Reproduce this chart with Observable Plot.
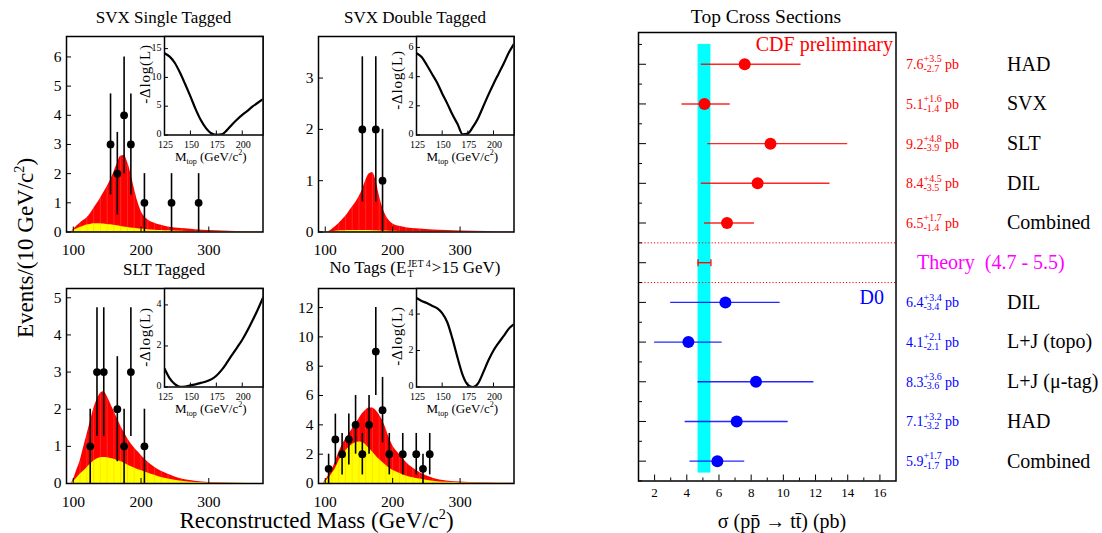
<!DOCTYPE html>
<html><head><meta charset="utf-8">
<script src="https://cdn.jsdelivr.net/npm/d3@7"></script>
<script src="https://cdn.jsdelivr.net/npm/@observablehq/plot@0.6"></script>
<style>
body{margin:0;background:#fff;}
#c{position:relative;width:1102px;height:533px;overflow:hidden;font-family:"Liberation Serif","Times New Roman",serif;color:#000;background:#fff;}
.lbl{position:absolute;white-space:nowrap;line-height:1;transform:translate(-50%,-50%);}
.ss{display:inline-flex;flex-direction:column;font-size:10px;line-height:1;vertical-align:6px;margin:0 1px;}
sub,sup{font-size:0.62em;line-height:0;}
</style></head><body><div id="c"></div>
<script>
// ---------- data: mass histograms ----------
const massGrid = [97,100,105,110,115,120,125,130,135,140,145,150,155,160,165,170,175,180,185,190,195,200,210,220,230,240,260,280,300,340,380];
const svxSingleTotal = [0,0.08,0.2,0.3,0.39,0.48,0.62,0.8,0.97,1.15,1.35,1.55,1.78,2.05,2.35,2.6,2.62,2.4,2.0,1.5,1.05,0.72,0.42,0.3,0.23,0.17,0.12,0.08,0.05,0.02,0.01];
const svxSingleBkg   = [0,0.04,0.1,0.15,0.2,0.24,0.26,0.28,0.285,0.28,0.27,0.26,0.245,0.23,0.21,0.19,0.17,0.155,0.14,0.125,0.11,0.1,0.08,0.06,0.05,0.04,0.03,0.02,0.012,0.005,0.002];
const svxDoubleTotal = [0,0,0.01,0.05,0.1,0.16,0.23,0.3,0.39,0.48,0.57,0.68,0.82,1.0,1.13,1.16,1.02,0.72,0.48,0.32,0.22,0.16,0.11,0.085,0.07,0.06,0.04,0.03,0.02,0.01,0.005];
const svxDoubleBkg   = [0,0,0.005,0.01,0.015,0.02,0.022,0.025,0.028,0.03,0.03,0.03,0.029,0.028,0.027,0.025,0.023,0.021,0.02,0.018,0.016,0.015,0.012,0.01,0.008,0.007,0.005,0.003,0.002,0.001,0];
const sltTotal = [0,0.1,0.35,0.6,0.95,1.3,1.65,2.0,2.25,2.42,2.47,2.35,2.15,1.95,1.75,1.55,1.38,1.22,1.08,0.96,0.86,0.76,0.58,0.44,0.33,0.25,0.12,0.06,0.03,0.01,0];
const sltBkg   = [0,0.05,0.14,0.25,0.33,0.42,0.52,0.6,0.66,0.69,0.7,0.69,0.67,0.65,0.62,0.59,0.55,0.5,0.46,0.42,0.38,0.35,0.28,0.22,0.16,0.12,0.06,0.03,0.015,0.005,0];
const noTagTotal = [0,0.2,0.55,0.95,1.45,2.1,2.6,3.0,3.35,3.7,4.05,4.4,4.75,5.0,5.15,5.15,5.0,4.7,4.3,3.75,3.1,2.6,2.0,1.45,1.05,0.75,0.36,0.17,0.1,0.03,0.01];
const noTagBkg   = [0,0.1,0.35,0.65,1.0,1.5,1.9,2.2,2.45,2.65,2.78,2.83,2.8,2.65,2.4,2.15,1.9,1.65,1.45,1.25,1.05,0.9,0.7,0.52,0.4,0.3,0.16,0.08,0.05,0.015,0.005];

// ---------- data: observed events ----------
const svxSingleMass = [155,165,175,185,205,245,285];
const svxSingleEvents = [3,2,4,3,1,1,1];
const svxDoubleMass = [155,175,185];
const svxDoubleEvents = [2,2,1];
const sltMass = [125,135,145,165,175,185,205];
const sltEvents = [1,3,3,2,1,3,1];
const noTagMass = [105,115,125,135,145,155,165,175,185,195,215,235,245,255];
const noTagEvents = [1,3,2,3,4,2,4,9,5,2,2,2,1,2];

// ---------- data: likelihood insets ----------
const mtopGrid = [125,130,135,140,145,150,155,160,165,170,175,180,185,190,195,200,205,210,215,220];
const svxSingleLike = [14.2,13.6,12.5,10.8,8.8,6.7,4.5,2.6,1.2,0.3,0.02,0.1,0.8,1.8,2.7,3.5,4.2,4.95,5.6,6.2];
const svxDoubleLike = [5.6,5.35,4.8,4.2,3.6,2.85,2.15,1.4,0.75,0.05,0.1,0.55,1.15,1.95,2.75,3.5,4.2,4.9,5.65,6.25];
const sltLike = [0.9,0.42,0.14,0.01,0.02,0.08,0.13,0.2,0.27,0.37,0.55,0.82,1.17,1.55,1.92,2.3,2.75,3.25,3.78,4.35];
const noTagLike = [4.88,4.72,4.6,4.46,4.32,4.05,3.55,2.65,1.6,0.65,0.12,0.0,0.2,0.8,1.45,2.0,2.42,2.8,3.2,3.45];

// ---------- tick labels ----------
const massTicks = [100,200,300];
const mtopTicks = [125,150,175,200];
const svxSingleYTicks = [0,1,2,3,4,5,6];
const svxDoubleYTicks = [0,1,2,3];
const sltYTicks = [0,1,2,3,4,5];
const noTagYTicks = [0,2,4,6,8,10,12];
const svxSingleLikeTicks = [0,5,10,15];
const svxDoubleLikeTicks = [0,2,4,6];
const sltLikeTicks = [0,2,4];
const noTagLikeTicks = [0,2,4];
const xsTicks = [2,4,6,8,10,12,14,16];

// ---------- data: cross sections ----------
const cdfLabels = ["HAD","SVX","SLT","DIL","Combined"];
const cdfValues = [7.6,5.1,9.2,8.4,6.5];
const cdfPlus   = [3.5,1.6,4.8,4.5,1.7];
const cdfMinus  = [2.7,1.4,3.9,3.5,1.4];
const d0Labels = ["DIL","L+J (topo)","L+J (\u03bc-tag)","HAD","Combined"];
const d0Values = [6.4,4.1,8.3,7.1,5.9];
const d0Plus   = [3.4,2.1,3.6,3.2,1.7];
const d0Minus  = [3.4,2.1,3.6,3.2,1.7];
const theoryRange = [4.7,5.5];

// ---------- layout helpers ----------
const C = document.getElementById("c");
const SERIF = "font-family:'Liberation Serif','Times New Roman',serif;background:transparent;overflow:visible;";
const fmt = d => String(d);
function place(svg, left, top){
  svg.style.position = "absolute";
  svg.style.left = left + "px";
  svg.style.top = top + "px";
  svg.style.maxWidth = "none";
  C.appendChild(svg);
}
function label(html, x, y, css){
  const d = document.createElement("div");
  d.className = "lbl";
  d.innerHTML = html;
  d.style.cssText += `left:${x}px;top:${y}px;` + (css || "");
  C.appendChild(d);
}

function mainPanel(f, total, bkg, mass, events, ymax, yTicks){
  const mL = 40, mT = 4, mR = 4, mB = 30;
  const iw = f.R - f.L, ih = f.B - f.T;
  const hist = massGrid.map((m,i) => ({m, total: total[i], bkg: bkg[i]}));
  const pts = mass.map((m,i) => ({m, n: events[i]}));
  const svg = Plot.plot({
    width: iw + mL + mR, height: ih + mT + mB,
    marginLeft: mL, marginTop: mT, marginRight: mR, marginBottom: mB,
    style: SERIF,
    x: {domain: [90,380], label: null},
    y: {domain: [0,ymax], label: null},
    marks: [
      Plot.areaY(hist, {x:"m", y:"total", fill:"#ff0000", curve:"monotone-x"}),
      Plot.ruleX(hist.filter(d => d.m % 10 === 0 && d.total > 0.05), {x:"m", y1:0, y2:"total", stroke:"#ffffff", strokeOpacity:0.22, strokeWidth:0.7}),
      Plot.areaY(hist, {x:"m", y:"bkg", fill:"#ffff00", curve:"monotone-x"}),
      Plot.ruleX(hist.filter(d => d.m % 10 === 0 && d.bkg > 0.05), {x:"m", y1:0, y2:"bkg", stroke:"#ff9900", strokeOpacity:0.35, strokeWidth:0.7}),
      Plot.ruleX(pts, {x:"m", y1: d => d.n - Math.sqrt(d.n), y2: d => d.n + Math.sqrt(d.n), stroke:"black", strokeWidth:1.6}),
      Plot.dot(pts, {x:"m", y:"n", r:3.9, fill:"black"}),
      Plot.tickX(massTicks, {x: d => d, insetTop: ih - 5, stroke:"black"}),
      Plot.tickY(yTicks, {y: d => d, insetRight: iw - 5, stroke:"black"}),
      Plot.axisX(massTicks, {tickSize:0, tickPadding:12, fontSize:15.5, tickFormat: fmt, label:null}),
      Plot.axisY(yTicks, {tickSize:0, tickPadding:5, fontSize:15.5, tickFormat: fmt, label:null}),
      Plot.frame({stroke:"black", strokeWidth:1.5})
    ]
  });
  place(svg, f.L - mL, f.T - mT);
}

function insetPanel(f, like, ymax, yTicks, ylabY){
  const mL = 22, mT = 2, mR = 2, mB = 30;
  const iw = f.R - f.L, ih = f.B - f.T;
  const curve = mtopGrid.map((m,i) => ({m, v: like[i]}));
  const svg = Plot.plot({
    width: iw + mL + mR, height: ih + mT + mB,
    marginLeft: mL, marginTop: mT, marginRight: mR, marginBottom: mB,
    style: SERIF,
    x: {domain: [125,220], label: null},
    y: {domain: [0,ymax], label: null},
    marks: [
      Plot.frame({fill:"white", stroke:"none"}),
      Plot.line(curve, {x:"m", y:"v", stroke:"black", strokeWidth:2.2, curve:"monotone-x", clip:true}),
      Plot.tickX(mtopTicks, {x: d => d, insetTop: ih - 4, stroke:"black"}),
      Plot.tickY(yTicks, {y: d => d, insetRight: iw - 4, stroke:"black"}),
      Plot.axisX(mtopTicks, {tickSize:0, tickPadding:5.5, dx:1, fontSize:10, tickFormat: fmt, label:null}),
      Plot.axisY(yTicks, {tickSize:0, tickPadding:3, dy:-1, fontSize:10, tickFormat: fmt, label:null}),
      Plot.frame({stroke:"black", strokeWidth:1.5})
    ]
  });
  place(svg, f.L - mL, f.T - mT);
  label("-\u0394log(L)", f.L - 18.5, f.T + ylabY, "font-size:15px;letter-spacing:0.8px;transform:translate(-50%,-50%) rotate(-90deg);");
  label("M<sub>top</sub> (GeV/c<sup>2</sup>)", f.L + (f.R - f.L)/2 - 2, f.B + 22, "font-size:13px;");
}

// ---------- four mass panels ----------
const P1 = {L:65.5, T:35.5, R:262, B:231};
const P2 = {L:317.5, T:35.5, R:513, B:231};
const P3 = {L:65.5, T:287.5, R:262, B:482.5};
const P4 = {L:317.5, T:287.5, R:513, B:482.5};
mainPanel(P1, svxSingleTotal, svxSingleBkg, svxSingleMass, svxSingleEvents, 6.7, svxSingleYTicks);
mainPanel(P2, svxDoubleTotal, svxDoubleBkg, svxDoubleMass, svxDoubleEvents, 3.81, svxDoubleYTicks);
mainPanel(P3, sltTotal, sltBkg, sltMass, sltEvents, 5.25, sltYTicks);
mainPanel(P4, noTagTotal, noTagBkg, noTagMass, noTagEvents, 13.3, noTagYTicks);

const inset = (P) => ({L: P.L + 98, T: P.T, R: P.R, B: P.T + 98.5});
insetPanel(inset(P1), svxSingleLike, 17.1, svxSingleLikeTicks, 38);
insetPanel(inset(P2), svxDoubleLike, 6.75, svxDoubleLikeTicks, 44);
insetPanel(inset(P3), sltLike, 4.8, sltLikeTicks, 49);
insetPanel(inset(P4), noTagLike, 5.4, noTagLikeTicks, 48);

label("SVX Single Tagged", 163.5, 17, "font-size:17px;");
label("SVX Double Tagged", 415, 17, "font-size:17px;");
label("SLT Tagged", 164, 269, "font-size:17px;");
label("No Tags (E<span class='ss'><span>JET 4</span><span>T</span></span>&gt;15 GeV)", 415, 269, "font-size:17px;");
label("Events/(10 GeV/c<sup>2</sup>)", 25, 248, "font-size:23px;transform:translate(-50%,-50%) rotate(-90deg);");
label("Reconstructed Mass (GeV/c<sup>2</sup>)", 316.5, 520, "font-size:23px;");

// ---------- cross-section panel ----------
const xsRows = [
  ...cdfLabels.map((name,i) => ({name, v: cdfValues[i], plus: cdfPlus[i], minus: cdfMinus[i], row: i, color: "#ff0000"})),
  ...d0Labels.map((name,i) => ({name, v: d0Values[i], plus: d0Plus[i], minus: d0Minus[i], row: cdfLabels.length + 1 + i, color: "#0000ff"}))
];
const theoryRow = cdfLabels.length;
const rowTop = -0.8, rowBottom = 10.5;
const bandRows = [-0.5, 10.3];
const capSymbol = {draw(ctx, size){ const h = Math.sqrt(size / Math.PI); ctx.moveTo(0, -h); ctx.lineTo(0, h); }};
{
  const F = {L:637.5, T:31.5, R:895, B:480};
  const mL = 10, mT = 2, mR = 1102 - F.R, mB = 50;
  const iw = F.R - F.L, ih = F.B - F.T;
  const majorRows = d3.range(0, 11);
  const minorRows = d3.range(-0.5, 10.6, 1);
  const minorX = d3.range(3, 16, 2);
  const svg = Plot.plot({
    width: iw + mL + mR, height: ih + mT + mB,
    marginLeft: mL, marginTop: mT, marginRight: mR, marginBottom: mB,
    style: SERIF,
    x: {domain: [1,17], label: null},
    y: {domain: [rowTop, rowBottom], reverse: true, axis: null, label: null},
    color: {type: "identity"},
    marks: [
      Plot.rect([theoryRange], {x1: d => d[0], x2: d => d[1], y1: bandRows[0], y2: bandRows[1], fill:"#00ffff"}),
      Plot.ruleY([theoryRow - 0.5, theoryRow + 0.5], {stroke:"#ff0000", strokeDasharray:"1.2,2", strokeWidth:1}),
      Plot.ruleY(xsRows, {y:"row", x1: d => d.v - d.minus, x2: d => d.v + d.plus, stroke: d => d.color, strokeWidth:1.4, strokeOpacity:0.85}),
      Plot.ruleY([theoryRange], {y: theoryRow, x1: d => d[0], x2: d => d[1], stroke:"#ff0000", strokeWidth:1.3}),
      Plot.dot(theoryRange, {x: d => d, y: theoryRow, symbol: capSymbol, r: 3.5, stroke:"#ff0000", strokeWidth:1.3, fill:"none"}),
      Plot.dot(xsRows, {x:"v", y:"row", r:6, fill: d => d.color}),
      Plot.tickY(majorRows, {y: d => d, insetRight: iw - 8, stroke:"black"}),
      Plot.tickY(minorRows, {y: d => d, insetRight: iw - 4, stroke:"black"}),
      Plot.tickX(xsTicks, {x: d => d, insetTop: ih - 6, stroke:"black"}),
      Plot.tickX(minorX, {x: d => d, insetTop: ih - 3, stroke:"black"}),
      Plot.axisX(xsTicks, {tickSize:0, tickPadding:7, fontSize:13, tickFormat: fmt, label:null}),
      Plot.frame({stroke:"black", strokeWidth:1.5}),
      Plot.text(["CDF preliminary"], {frameAnchor:"top-right", dx:-3, dy:4, textAnchor:"end", lineAnchor:"top", fill:"#ff0000", fontSize:20}),
      Plot.text(["D0"], {y: theoryRow + 1, frameAnchor:"right", dx:-12, dy:-5, textAnchor:"end", fill:"#0000ff", fontSize:20}),
      Plot.text([theoryRange], {y: theoryRow, frameAnchor:"right", dx:21, textAnchor:"start", text: d => `Theory  (${d[0]} - ${d[1]})`, fill:"#ff00ff", fontSize:20}),
      Plot.text(xsRows, {y:"row", frameAnchor:"right", dx:10, dy:0.5, textAnchor:"start", text: d => d.v.toFixed(1), fill: d => d.color, fontSize:14}),
      Plot.text(xsRows, {y:"row", frameAnchor:"right", dx:27.5, dy:-5, textAnchor:"start", text: d => "+" + d.plus.toFixed(1), fill: d => d.color, fontSize:10}),
      Plot.text(xsRows, {y:"row", frameAnchor:"right", dx:27.5, dy:4.5, textAnchor:"start", text: d => "-" + d.minus.toFixed(1), fill: d => d.color, fontSize:10}),
      Plot.text(xsRows, {y:"row", frameAnchor:"right", dx:49, dy:0.5, textAnchor:"start", text: () => "pb", fill: d => d.color, fontSize:14}),
      Plot.text(xsRows, {y:"row", frameAnchor:"right", dx:111, textAnchor:"start", text:"name", fill:"black", fontSize:20})
    ]
  });
  place(svg, F.L - mL, F.T - mT);
  label("Top Cross Sections", 766, 16.5, "font-size:19.5px;");
  label("\u03c3 (pp\u0304 \u2192 tt\u0304) (pb)", 782, 521, "font-size:20px;");
}
</script></body></html>
